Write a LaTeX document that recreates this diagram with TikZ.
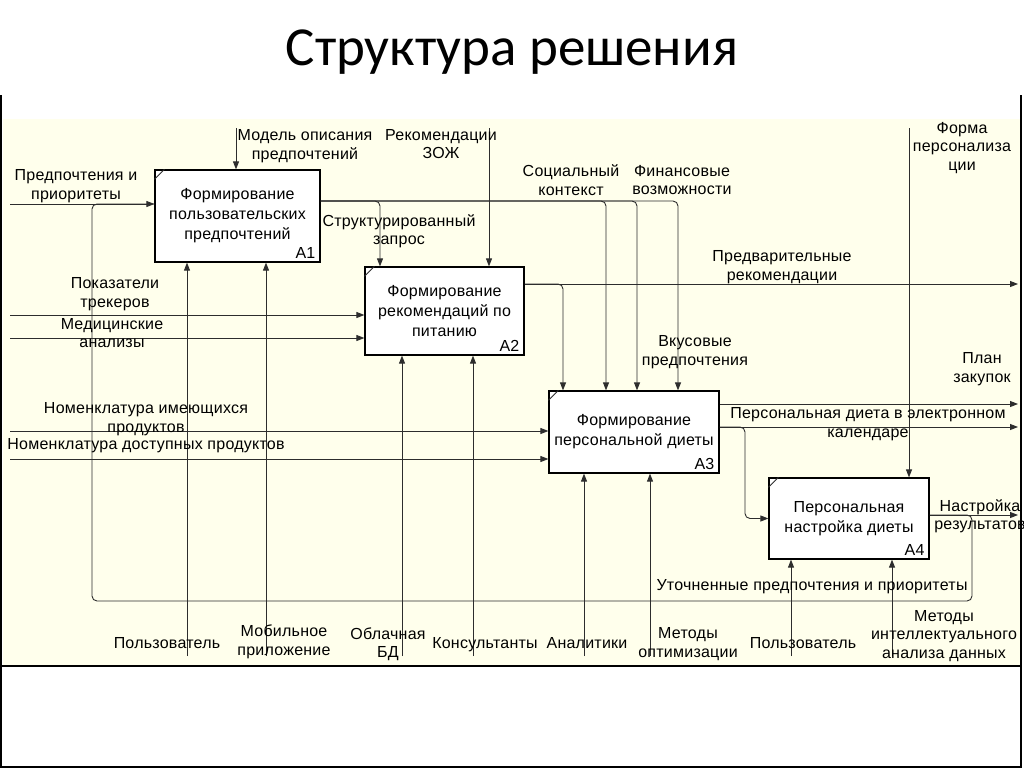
\documentclass[tikz,border=0pt]{standalone}
\usepackage{fontspec}
\setmainfont[LetterSpace=1.5]{Liberation Sans}
\newfontfamily\titlefont{Carlito}
\usetikzlibrary{arrows.meta}
\definecolor{cream}{RGB}{255,255,236}
\definecolor{wire}{RGB}{45,45,45}

\begin{document}
\begin{tikzpicture}[x=1pt, y=-1pt,
    every node/.style={font=\fontsize{16}{18.5}\selectfont},
    box/.style={draw=black, line width=1.2pt, fill=white, align=center, inner sep=0pt},
    ln/.style={draw=wire, line width=0.9pt},
    arr/.style={ln, -{Triangle[length=8pt, width=6pt]}},
    lbl/.style={align=center, inner sep=0pt}]

    \useasboundingbox (0,0) rectangle (1024,768);

    \node[font=\titlefont\fontsize{55}{60}\selectfont, anchor=base] (title) at (512,66) {Структура решения};

    \fill[cream] (3,119) rectangle (1020,665);
    \draw[black, line width=1.6pt] (1,95) -- (1,767) -- (1021,767) -- (1021,95);
    \draw[black, line width=1.4pt] (1,666) -- (1021,666);

    \node[box, minimum width=165pt, minimum height=92pt, font=\fontsize{16}{20}\selectfont] (a1) at (237.5,216) {Формирование\\пользовательских\\предпочтений};
    \node[box, minimum width=159pt, minimum height=88pt, font=\fontsize{16}{20}\selectfont] (a2) at (444.5,311) {Формирование\\рекомендаций по\\питанию};
    \node[box, minimum width=170pt, minimum height=82pt, font=\fontsize{16}{20}\selectfont] (a3) at (634,432) {Формирование\\персональной диеты};
    \node[box, minimum width=160pt, minimum height=81pt, font=\fontsize{16}{20}\selectfont] (a4) at (849,518.5) {Персональная\\настройка диеты};

    \draw[ln] ([yshift=-10pt]a1.north west) -- ([xshift=10pt]a1.north west);
    \draw[ln] ([yshift=-10pt]a2.north west) -- ([xshift=10pt]a2.north west);
    \draw[ln] ([yshift=-10pt]a3.north west) -- ([xshift=10pt]a3.north west);
    \draw[ln] ([yshift=-10pt]a4.north west) -- ([xshift=10pt]a4.north west);

    \node[lbl, anchor=base east] (a1n) at ([xshift=-5pt, yshift=4pt]a1.south east) {A1};
    \node[lbl, anchor=base east] (a2n) at ([xshift=-5pt, yshift=4pt]a2.south east) {A2};
    \node[lbl, anchor=base east] (a3n) at ([xshift=-5pt, yshift=4pt]a3.south east) {A3};
    \node[lbl, anchor=base east] (a4n) at ([xshift=-5pt, yshift=4pt]a4.south east) {A4};

    \coordinate (pref) at (10,204);
    \coordinate (trk) at (10,315);
    \coordinate (med) at (10,338);
    \coordinate (nom1) at (10,431);
    \coordinate (nom2) at (10,459);

    \draw[arr] (pref) -- (pref -| a1.west);
    \draw[arr] (trk) -- (trk -| a2.west);
    \draw[arr] (med) -- (med -| a2.west);
    \draw[arr] (nom1) -- (nom1 -| a3.west);
    \draw[arr] (nom2) -- (nom2 -| a3.west);

    \coordinate (mod) at (236,128);
    \coordinate (zoz) at (489,128);
    \coordinate (form) at (909,128);

    \draw[arr] (mod) -- (mod |- a1.north);
    \draw[arr] (zoz) -- (zoz |- a2.north);
    \draw[arr] (form) -- (form |- a4.north);

    \coordinate (sz) at (380,201);
    \coordinate (soc) at (606,201);
    \coordinate (fin) at (637,201);
    \coordinate (tas) at (678,201);

    \draw[arr, rounded corners=5pt] (a1.east |- sz) -| (a2.north -| sz);
    \draw[arr, rounded corners=5pt] (a1.east |- sz) -| (a3.north -| soc);
    \draw[arr, rounded corners=5pt] (a1.east |- sz) -| (a3.north -| fin);
    \draw[arr, rounded corners=5pt] (a1.east |- sz) -| (a3.north -| tas);

    \coordinate (pre) at (1018,284);
    \coordinate (br2) at (563,284);

    \draw[arr] (a2.east |- pre) -- (pre);
    \draw[arr, rounded corners=5pt] (a2.east |- pre) -| (a3.north -| br2);

    \coordinate (plan) at (1018,404);
    \coordinate (cal) at (1018,427);
    \coordinate (br3) at (745,427);

    \draw[arr] (a3.east |- plan) -- (plan);
    \draw[arr] (a3.east |- cal) -- (cal);
    \draw[arr, rounded corners=5pt] (a3.east |- cal) -| (br3 |- a4.west) -- (a4.west);

    \coordinate (res) at (1018,515);
    \coordinate (fb1) at (972,601);
    \coordinate (fb2) at (92,601);

    \draw[arr] (a4.east |- res) -- (res);
    \draw[ln, rounded corners=5pt] (a4.east |- res) -| (fb1) -| (fb2 |- pref) -- (pref -| a1.west);

    \coordinate (m1) at (187,656);
    \coordinate (m2) at (266,656);
    \coordinate (m3) at (402,656);
    \coordinate (m4) at (473,656);
    \coordinate (m5) at (584,656);
    \coordinate (m6) at (650,656);
    \coordinate (m7) at (791,656);
    \coordinate (m8) at (892,656);

    \draw[arr] (m1) -- (m1 |- a1.south);
    \draw[arr] (m2) -- (m2 |- a1.south);
    \draw[arr] (m3) -- (m3 |- a2.south);
    \draw[arr] (m4) -- (m4 |- a2.south);
    \draw[arr] (m5) -- (m5 |- a3.south);
    \draw[arr] (m6) -- (m6 |- a3.south);
    \draw[arr] (m7) -- (m7 |- a4.south);
    \draw[arr] (m8) -- (m8 |- a4.south);

    \node[lbl] (l1) at (76,186) {Предпочтения и\\приоритеты};
    \node[lbl] (l2) at (305,146) {Модель описания\\предпочтений};
    \node[lbl] (l3) at (441,144) {Рекомендации\\ЗОЖ};
    \node[lbl] (l4) at (399,231) {Структурированный\\запрос};
    \node[lbl] (l5) at (571,180) {Социальный\\контекст};
    \node[lbl] (l6) at (682,180) {Финансовые\\возможности};
    \node[lbl] (l7) at (962,148) {Форма\\персонализа\\ции};
    \node[lbl] (l8) at (782,267) {Предварительные\\рекомендации};
    \node[lbl] (l9) at (115,294) {Показатели\\трекеров};
    \node[lbl] (l10) at (112,333) {Медицинские\\анализы};
    \node[lbl] (l11) at (146,419) {Номенклатура имеющихся\\продуктов};
    \node[lbl] (l12) at (146,446) {Номенклатура доступных продуктов};
    \node[lbl] (l13) at (695,352) {Вкусовые\\предпочтения};
    \node[lbl] (l14) at (982,369) {План\\закупок};
    \node[lbl] (l15) at (868,424) {Персональная диета в электронном\\календаре};
    \node[lbl] (l16) at (980,516) {Настройка\\результатов};
    \node[lbl] (l17) at (812,587) {Уточненные предпочтения и приоритеты};

    \node[lbl] (b1) at (167,643) {Пользователь};
    \node[lbl] (b2) at (284,642) {Мобильное\\приложение};
    \node[lbl] (b3) at (388,644) {Облачная\\БД};
    \node[lbl] (b4) at (485,645) {Консультанты};
    \node[lbl] (b5) at (587,643) {Аналитики};
    \node[lbl] (b6) at (688,644) {Методы\\оптимизации};
    \node[lbl] (b7) at (803,643) {Пользователь};
    \node[lbl] (b8) at (944,636) {Методы\\интеллектуального\\анализа данных};

\end{tikzpicture}
\end{document}
